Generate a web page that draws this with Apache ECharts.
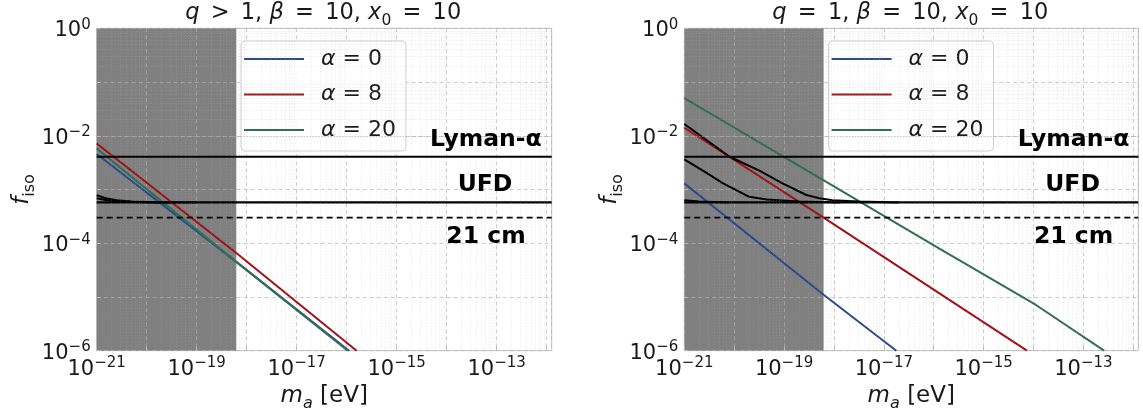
<!DOCTYPE html>
<html>
<head>
<meta charset="utf-8">
<script src="https://cdn.jsdelivr.net/npm/echarts@6/dist/echarts.min.js"></script>
<style>
  html, body { margin: 0; padding: 0; background: #fff; }
  #main { width: 1143px; height: 409px; }
</style>
</head>
<body>
<div id="main"></div>
<script>
// chart container
let chart = echarts.init(document.getElementById('main'));

const FONT = 'DejaVu Sans';
const INK = '#1a1a1a';

// axis ranges
const massRange = [1e-21, 1.26e-12];
const fRange = [1e-6, 1];
// excluded mass region (grey band)
const shadeEdge = 6.2e-19;
// horizontal bounds
const lymanAlpha = 4.07e-3;
const ufd = 5.75e-4;
const cm21 = 3.0e-4;

const alphaNames = ['α = 0', 'α = 8', 'α = 20'];
const alphaColors = ['#2b4a8b', '#a30f14', '#2f6e52'];

// left panel: q > 1, beta = 10, x0 = 10   [m_a (eV), f_iso]
const qGt1Alpha0 = [[1e-21, 4.57e-3], [6.2e-19, 4.5e-5], [1.12e-16, 1e-6]];
const qGt1Alpha8 = [[1e-21, 7.2e-3], [6.2e-19, 6.6e-5], [1.58e-16, 1e-6]];
const qGt1Alpha20 = [[1e-21, 5.8e-3], [6.2e-19, 4.5e-5], [1.05e-16, 1e-6]];
const qGt1UfdA = [[1e-21, 7.8e-4], [1.5e-21, 6.9e-4], [2.5e-21, 6.3e-4], [5e-21, 5.95e-4], [1.5e-20, 5.8e-4], [1e-19, 5.75e-4]];
const qGt1UfdB = [[1e-21, 6.9e-4], [1.6e-21, 6.3e-4], [3e-21, 5.95e-4], [8e-21, 5.8e-4], [3e-20, 5.75e-4]];

// right panel: q = 1, beta = 10, x0 = 10
const q1Alpha0 = [[1e-21, 1.3e-3], [6.2e-19, 1.1e-5], [1.78e-17, 1e-6]];
const q1Alpha8 = [[1e-21, 1.41e-2], [6.2e-19, 3.0e-4], [7.4e-15, 1e-6]];
const q1Alpha20 = [[1e-21, 5.0e-2], [1.3e-16, 7.9e-5], [1.12e-14, 7.1e-6], [2.6e-13, 1e-6]];
const q1UfdA = [[1e-21, 1.66e-2], [8.1e-21, 4.07e-3], [3.2e-20, 2.24e-3], [9.3e-20, 1.3e-3], [2.8e-19, 7.9e-4],
    [5.1e-19, 6.9e-4], [9.3e-19, 6.3e-4], [3.2e-18, 5.96e-4], [2e-17, 5.75e-4]];
const q1UfdB = [[1e-21, 3.63e-3], [2.45e-21, 2.2e-3], [6e-21, 1.3e-3], [2e-20, 7.3e-4], [4.5e-20, 6.5e-4],
    [2e-19, 5.96e-4], [1.3e-18, 5.75e-4]];
const q1UfdC = [[1e-21, 6.3e-4], [2e-21, 5.96e-4], [8e-21, 5.75e-4]];

// plot boxes
const boxes = [
    {left: 96.7, top: 28.3, width: 455, height: 322.4},
    {left: 684.3, top: 28.3, width: 454, height: 322.4}
];

// the echarts log axis breaks on 1e-21 sized numbers, so the mass axis
// is a value axis over decades and masses go through log10
const lg = Math.log10;
const toPlot = pts => pts.map(p => [lg(p[0]), p[1]]);

const tickRich = {
    b: {fontSize: 21, fontFamily: FONT, color: INK, verticalAlign: 'top', lineHeight: 22, padding: [3, 0, 0, 0]},
    s: {fontSize: 15, fontFamily: FONT, color: INK, verticalAlign: 'top', lineHeight: 16}
};
const mathRich = {
    i: {fontSize: 23, fontFamily: FONT, fontStyle: 'italic', color: INK, verticalAlign: 'top', lineHeight: 26},
    r: {fontSize: 23, fontFamily: FONT, color: INK, verticalAlign: 'top', lineHeight: 26},
    sub: {fontSize: 16, fontFamily: FONT, color: INK, verticalAlign: 'top', lineHeight: 17, padding: [11, 0, 0, 0]},
    si: {fontSize: 16, fontFamily: FONT, fontStyle: 'italic', color: INK, verticalAlign: 'top', lineHeight: 17, padding: [11, 0, 0, 0]}
};

// 10^n labels, only every other decade; e is the exponent
function expLabel(e, parity) {
    let r = Math.round(e);
    if (Math.abs(e - r) > 1e-6) return '';
    if (Math.abs(r) % 2 !== parity) return '';
    return '{b|10}{s|' + (r < 0 ? '\u2212' + (-r) : r) + '}';
}

// minor grid positions 2..9 x 10^n
function minorValues(lo, hi, max) {
    let out = [];
    for (let n = lo; n <= hi; n++) {
        for (let k = 2; k <= 9; k++) {
            let v = k * Math.pow(10, n);
            if (v < max) out.push(v);
        }
    }
    return out;
}
const xMinor = minorValues(-21, -12, massRange[1]);
const yMinor = minorValues(-6, -1, fRange[1]);

const majorGrid = {show: true, lineStyle: {color: 'rgba(176,176,176,0.65)', type: [4, 3], width: 1}};

function makeX(gi) {
    return {
        type: 'value', gridIndex: gi,
        min: lg(massRange[0]), max: lg(massRange[1]), interval: 1,
        z: 1.5,
        name: '{i|m}{si|a}{r| [eV]}', nameLocation: 'middle', nameGap: 31,
        nameTextStyle: {rich: mathRich},
        axisLine: {show: false},
        axisTick: {show: true, inside: true, length: 4, lineStyle: {color: '#bbbbbb'}},
        axisLabel: {formatter: v => expLabel(v, 1), rich: tickRich, margin: 5, showMaxLabel: false},
        splitLine: majorGrid
    };
}
function makeY(gi) {
    return {
        type: 'log', logBase: 10, gridIndex: gi,
        min: fRange[0], max: fRange[1], splitNumber: 6,
        z: 1.5,
        name: '{i|f}{sub|iso}', nameLocation: 'middle', nameGap: 56,
        nameTextStyle: {rich: mathRich},
        axisLine: {show: false},
        axisTick: {show: true, inside: true, length: 4, lineStyle: {color: '#bbbbbb'}},
        axisLabel: {formatter: v => expLabel(lg(v), 0), rich: tickRich, margin: 6},
        splitLine: majorGrid
    };
}

function curve(name, data, color, gi, extra) {
    return Object.assign({
        type: 'line', name: name, data: toPlot(data),
        xAxisIndex: gi, yAxisIndex: gi,
        symbol: 'none', z: 2,
        lineStyle: {color: color, width: 2},
        itemStyle: {color: color}
    }, extra || {});
}
function hline(name, value, gi, dashed) {
    return curve(name, [[massRange[0], value], [massRange[1], value]], '#000', gi, {
        z: 3,
        lineStyle: {color: '#000', width: dashed ? 1.8 : 2.2, type: dashed ? [6, 4] : 'solid'}
    });
}
function blackCurve(data, gi) {
    return curve('bound', data, '#000', gi, {lineStyle: {color: '#000', width: 2}});
}

// grey band and minor grid for one panel
function backdrop(gi) {
    return [
        {
            type: 'line', data: [], xAxisIndex: gi, yAxisIndex: gi, z: 1, silent: true,
            markArea: {
                silent: true,
                itemStyle: {color: '#808080'},
                data: [[{xAxis: lg(massRange[0]), yAxis: fRange[0]}, {xAxis: lg(shadeEdge), yAxis: fRange[1]}]]
            }
        },
        {
            type: 'line', data: [], xAxisIndex: gi, yAxisIndex: gi, z: 1.5, silent: true,
            markLine: {
                silent: true, symbol: ['none', 'none'], label: {show: false},
                lineStyle: {color: 'rgba(176,176,176,0.3)', type: [1, 2], width: 1},
                data: xMinor.map(v => ({xAxis: lg(v)})).concat(yMinor.map(v => ({yAxis: v})))
            }
        }
    ];
}

function legendFor(gi) {
    return {
        orient: 'vertical',
        left: boxes[gi].left + 144.3, top: 41,
        data: alphaNames,
        icon: 'rect', itemWidth: 60, itemHeight: 2, itemGap: 9.5,
        padding: [5, 10, 8, 3],
        backgroundColor: 'rgba(255,255,255,0.85)',
        borderColor: '#d0d0d0', borderWidth: 1, borderRadius: 4,
        formatter: name => '{i|α}{r|' + name.slice(1) + '}',
        textStyle: {
            fontSize: 22, fontFamily: FONT, color: INK, lineHeight: 26, padding: [0, 0, 0, 12],
            rich: {
                i: {fontSize: 22, fontFamily: FONT, fontStyle: 'italic', color: INK},
                r: {fontSize: 22, fontFamily: FONT, color: INK}
            }
        }
    };
}

// text annotations
const panelTitles = [
    '{i|q}{r|\u2002>\u20021, }{i|β}{r|\u2002=\u200210, }{i|x}{sub|0}{r|\u2002=\u200210}',
    '{i|q}{r|\u2002=\u20021, }{i|β}{r|\u2002=\u200210, }{i|x}{sub|0}{r|\u2002=\u200210}'
];
const boundLabels = [
    {text: 'Lyman-α', dx: 445, y: 140, align: 'right'},
    {text: 'UFD', dx: 388.3, y: 185, align: 'center'},
    {text: '21 cm', dx: 389.3, y: 237, align: 'center'}
];

let graphics = [];
for (let gi = 0; gi < 2; gi++) {
    let b = boxes[gi];
    graphics.push({
        type: 'text', x: b.left + b.width / 2 - 1, y: 2,
        style: {
            text: panelTitles[gi], align: 'center', verticalAlign: 'top',
            rich: {
                i: {fontSize: 22.5, fontFamily: FONT, fontStyle: 'italic', fill: INK, verticalAlign: 'top', lineHeight: 25},
                r: {fontSize: 22.5, fontFamily: FONT, fill: INK, verticalAlign: 'top', lineHeight: 25},
                sub: {fontSize: 15.5, fontFamily: FONT, fill: INK, verticalAlign: 'top', lineHeight: 16, padding: [11, 0, 0, 0]}
            }
        }
    });
    boundLabels.forEach(l => {
        graphics.push({
            type: 'text', x: b.left + l.dx, y: l.y, z: 10,
            style: {
                text: l.text, align: l.align, verticalAlign: 'middle',
                fontSize: 23.5, fontWeight: 'bold', fontFamily: FONT, fill: '#000'
            }
        });
    });
}

let series = [].concat(
    backdrop(0), backdrop(1),
    [
        curve(alphaNames[0], qGt1Alpha0, alphaColors[0], 0),
        curve(alphaNames[1], qGt1Alpha8, alphaColors[1], 0),
        curve(alphaNames[2], qGt1Alpha20, alphaColors[2], 0),
        blackCurve(qGt1UfdA, 0),
        blackCurve(qGt1UfdB, 0),
        hline('Lyman-α', lymanAlpha, 0),
        hline('UFD', ufd, 0),
        hline('21 cm', cm21, 0, true),

        curve(alphaNames[0], q1Alpha0, alphaColors[0], 1),
        curve(alphaNames[1], q1Alpha8, alphaColors[1], 1),
        curve(alphaNames[2], q1Alpha20, alphaColors[2], 1),
        blackCurve(q1UfdA, 1),
        blackCurve(q1UfdB, 1),
        blackCurve(q1UfdC, 1),
        hline('Lyman-α', lymanAlpha, 1),
        hline('UFD', ufd, 1),
        hline('21 cm', cm21, 1, true)
    ]
);

let option = {
    backgroundColor: '#fff',
    animation: false,
    textStyle: {fontFamily: FONT},
    // fixed plot boxes: keep v6 from shrinking the grids to fit labels
    grid: boxes.map(b => Object.assign({
        show: true, borderColor: '#c4c4c4', borderWidth: 1, backgroundColor: 'transparent',
        containLabel: false, outerBoundsMode: 'none'
    }, b)),
    xAxis: [makeX(0), makeX(1)],
    yAxis: [makeY(0), makeY(1)],
    legend: [legendFor(0), legendFor(1)],
    graphic: graphics,
    series: series
};
chart.setOption(option);
</script>
</body>
</html>
